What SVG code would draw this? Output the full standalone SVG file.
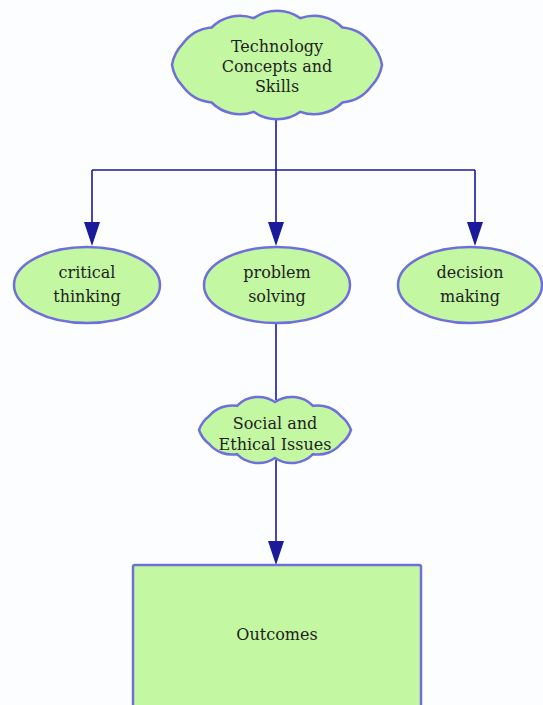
<svg xmlns="http://www.w3.org/2000/svg" width="543" height="705" viewBox="0 0 543 705">
<style>
.node{fill:#c3f7a2;stroke:#6f6fdc;stroke-width:2.5}
.lbl{font-family:"DejaVu Serif",serif;font-size:16px;fill:#1e1e1e;text-anchor:middle}
.edge{stroke:#1a1a9a;stroke-width:1.6;fill:none}
.head{fill:#1a1a9a}
</style>
<rect width="543" height="705" fill="#fbfdff"/>
<g id="connectors">
<path class="edge" d="M276,116 V222"/>
<path class="edge" d="M92,170 H475"/>
<path class="edge" d="M92,170 V222"/>
<path class="edge" d="M475,170 V222"/>
<polygon class="head" points="84,222 100,222 92,246"/>
<polygon class="head" points="268,222 284,222 276,246"/>
<polygon class="head" points="467,222 483,222 475,246"/>
<path class="edge" d="M276,323 V400"/>
<path class="edge" d="M276,460 V541"/>
<polygon class="head" points="268,541 284,541 276,565"/>
</g>
<g id="tech">
<path class="node" d="M382,65 A40,40 0 0 1 371.6,85.8 A40,40 0 0 1 342.4,102.5 A40,40 0 0 1 300.4,111.8 A40,40 0 0 1 253.6,111.8 A40,40 0 0 1 211.6,102.5 A40,40 0 0 1 182.4,85.8 A40,40 0 0 1 172,65 A40,40 0 0 1 182.4,44.2 A40,40 0 0 1 211.6,27.5 A40,40 0 0 1 253.6,18.2 A40,40 0 0 1 300.4,18.2 A40,40 0 0 1 342.4,27.5 A40,40 0 0 1 371.6,44.2 A40,40 0 0 1 382,65 Z"/>
<text class="lbl" x="277" y="52">Technology</text>
<text class="lbl" x="277" y="72">Concepts and</text>
<text class="lbl" x="277" y="92">Skills</text>
</g>
<g id="critical">
<ellipse class="node" cx="87" cy="285" rx="73" ry="38"/>
<text class="lbl" x="87" y="278">critical</text>
<text class="lbl" x="87" y="302">thinking</text>
</g>
<g id="problem">
<ellipse class="node" cx="277" cy="285" rx="73" ry="38"/>
<text class="lbl" x="277" y="278">problem</text>
<text class="lbl" x="277" y="302">solving</text>
</g>
<g id="decision">
<ellipse class="node" cx="470" cy="285" rx="72" ry="38"/>
<text class="lbl" x="470" y="278">decision</text>
<text class="lbl" x="470" y="302">making</text>
</g>
<g id="social">
<path class="node" d="M351,430 A30,30 0 0 1 340.8,444 A30,30 0 0 1 313,454.2 A30,30 0 0 1 275,458 A30,30 0 0 1 237,454.2 A30,30 0 0 1 209.2,444 A30,30 0 0 1 199,430 A30,30 0 0 1 209.2,416 A30,30 0 0 1 237,405.8 A30,30 0 0 1 275,402 A30,30 0 0 1 313,405.8 A30,30 0 0 1 340.8,416 A30,30 0 0 1 351,430 Z"/>
<text class="lbl" x="275" y="429">Social and</text>
<text class="lbl" x="275" y="450">Ethical Issues</text>
</g>
<g id="outcomes">
<rect class="node" x="133" y="565" width="288" height="150" rx="2"/>
<text class="lbl" x="277" y="640">Outcomes</text>
</g>
</svg>
